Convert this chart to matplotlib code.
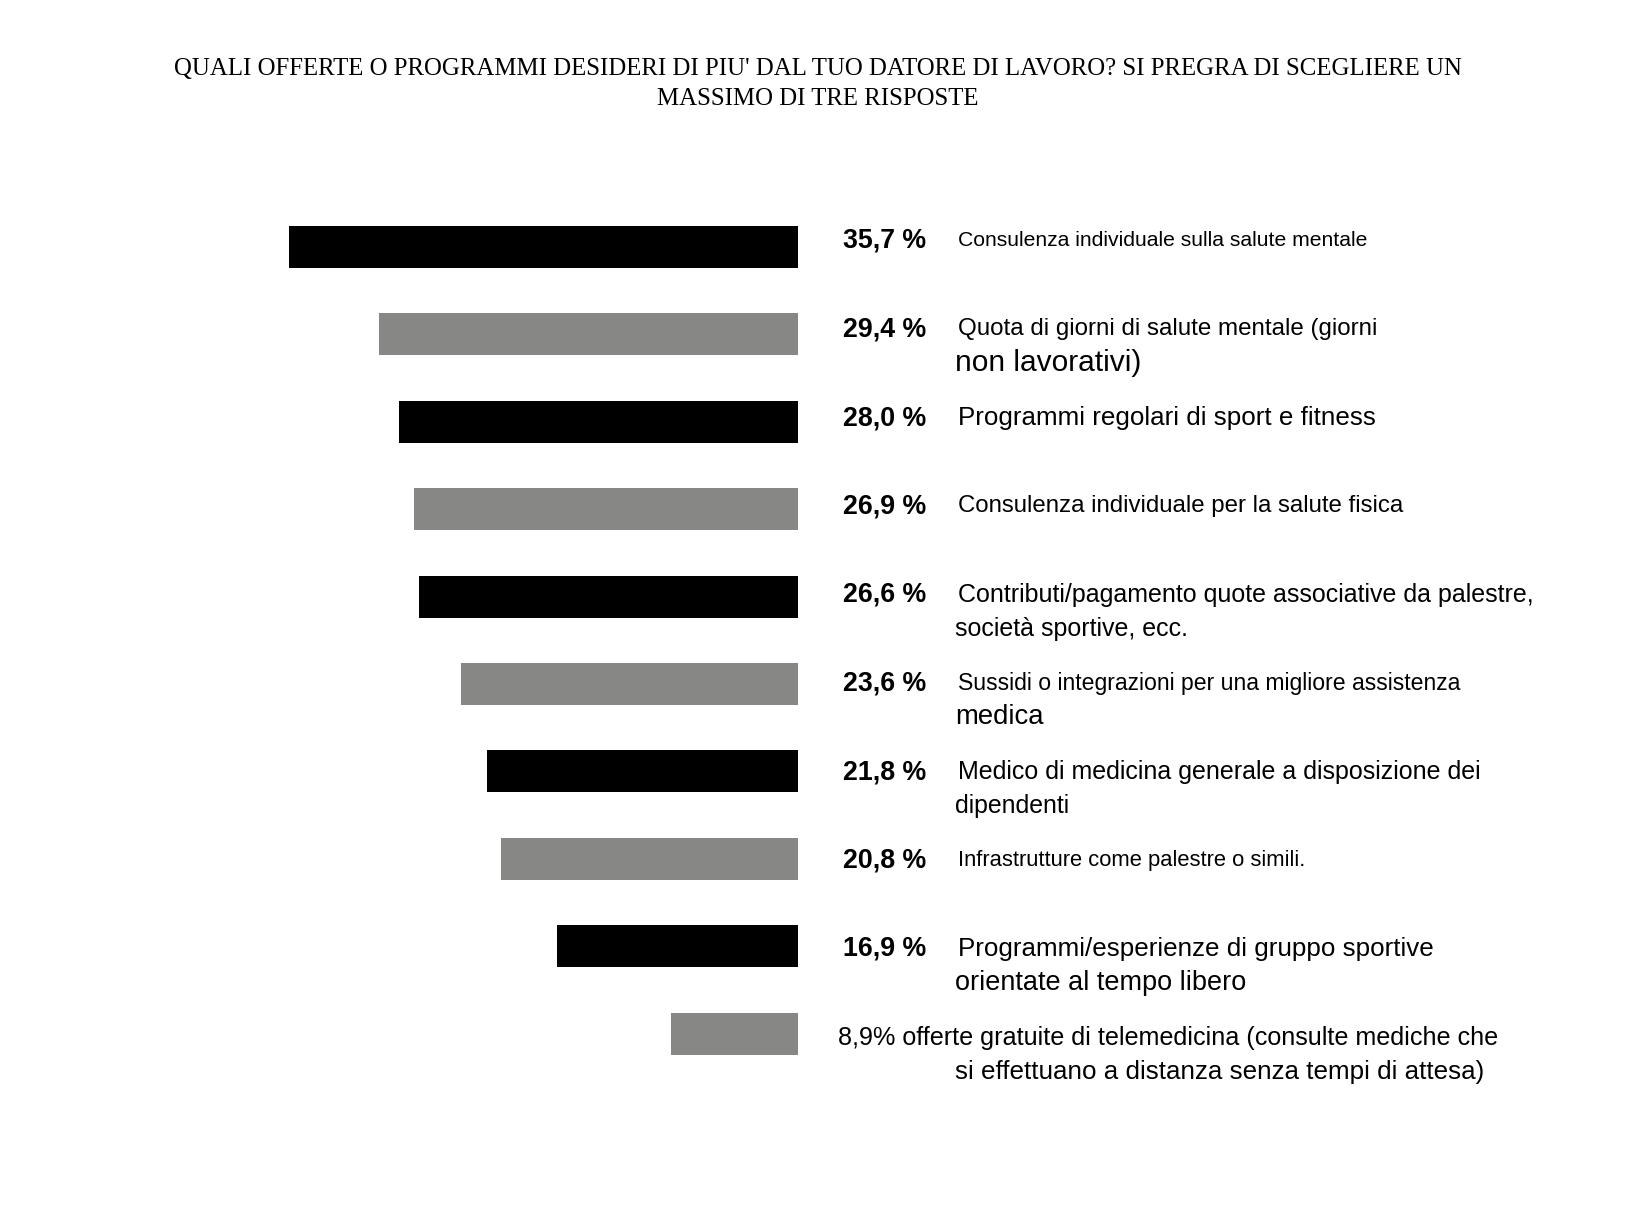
import matplotlib.pyplot as plt

# valori (%)
valori = [35.7, 29.4, 28.0, 26.9, 26.6, 23.6, 21.8, 20.8, 16.9, 8.9]
etichette_pct = ['35,7 %', '29,4 %', '28,0 %', '26,9 %', '26,6 %',
                 '23,6 %', '21,8 %', '20,8 %', '16,9 %', '']
riga1 = ['Consulenza individuale sulla salute mentale',
         'Quota di giorni di salute mentale (giorni',
         'Programmi regolari di sport e fitness',
         'Consulenza individuale per la salute fisica',
         'Contributi/pagamento quote associative da palestre,',
         'Sussidi o integrazioni per una migliore assistenza',
         'Medico di medicina generale a disposizione dei',
         'Infrastrutture come palestre o simili.',
         'Programmi/esperienze di gruppo sportive',
         '8,9% offerte gratuite di telemedicina (consulte mediche che']
riga2 = ['', 'non lavorativi)', '', '', 'società sportive, ecc.', 'medica',
         'dipendenti', '', 'orientate al tempo libero',
         'si effettuano a distanza senza tempi di attesa)']
dim1 = [15.2, 17.4, 18.7, 17.3, 18.0, 16.6, 18.0, 15.8, 18.7, 18.1]
dim2 = [0, 21.5, 0, 0, 18.0, 19.8, 17.9, 0, 19.5, 18.7]
colori = ['#000000', '#878785'] * 5

titolo = ("QUALI OFFERTE O PROGRAMMI DESIDERI DI PIU' DAL TUO DATORE DI LAVORO? SI PREGRA DI SCEGLIERE UN\n"
          "MASSIMO DI TRE RISPOSTE")

plt.rcParams['font.family'] = ['Liberation Sans', 'DejaVu Sans']

fig = plt.figure(figsize=(16.28, 12.28), dpi=100)
ax = fig.add_axes([0, 0, 1, 1])
ax.axis('off')

px = 14.26   # pixel per punto percentuale
passo = 87.4  # pixel tra le barre
ax.set_xlim(-798 / px, (1628 - 798) / px)
ax.set_ylim((1228 - 247) / passo, -247 / passo)

pos = list(range(len(valori)))
ax.barh(pos, valori, left=[-v for v in valori], height=42 / passo, color=colori)

for i in pos:
    dy = 6 - 1.1 * i
    if etichette_pct[i]:
        ax.annotate(etichette_pct[i], xy=(0, i), xytext=(45, dy), textcoords='offset pixels',
                    ha='left', va='center', fontsize=19.3, fontweight='bold')
        x1 = 160
    else:
        x1 = 40
    ax.annotate(riga1[i], xy=(0, i), xytext=(x1, dy), textcoords='offset pixels',
                ha='left', va='center', fontsize=dim1[i])
    if riga2[i]:
        ax.annotate(riga2[i], xy=(0, i), xytext=(157, dy - 34), textcoords='offset pixels',
                    ha='left', va='center', fontsize=dim2[i])

fig.text(818 / 1628, 1 - 84 / 1228, titolo, ha='center', va='center',
         fontsize=17.9, family='Liberation Serif', linespacing=1.45)

plt.savefig('out.png', dpi=100)
